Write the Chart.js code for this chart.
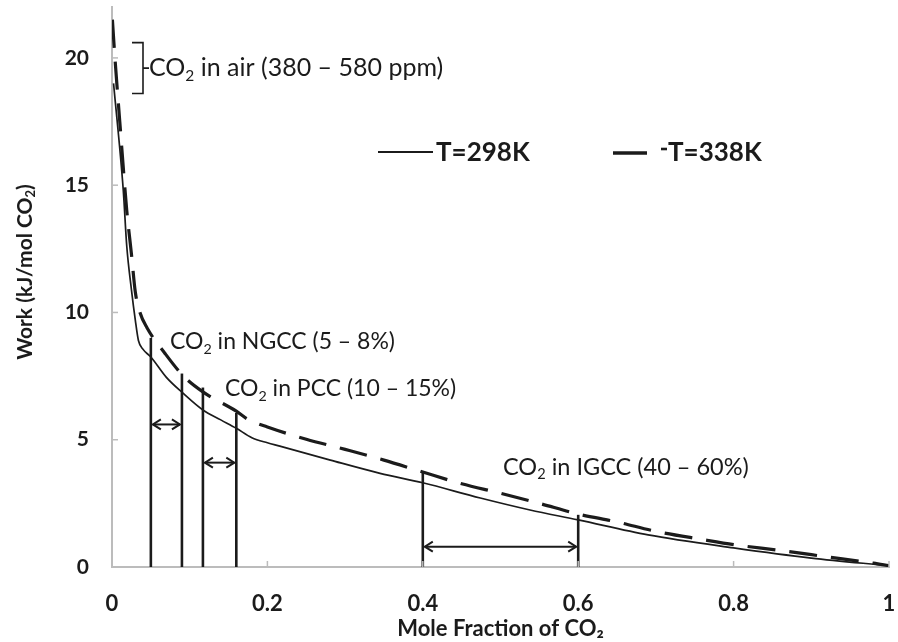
<!DOCTYPE html>
<html>
<head>
<meta charset="utf-8">
<script src="https://cdn.jsdelivr.net/npm/chart.js@4.4.0/dist/chart.umd.min.js"></script>
<style>
  html, body { margin: 0; padding: 0; background: #fff; }
</style>
</head>
<body>
<canvas id="work-chart" width="898" height="642"></canvas>
<script>
"use strict";

/* --- DATA --- */

// T = 298K (solid)
const x_298 = [0.002, 0.0145, 0.019, 0.025, 0.030, 0.034, 0.040, 0.050, 0.070, 0.091, 0.117, 0.140, 0.160, 0.180, 0.200, 0.216, 0.281, 0.345, 0.400, 0.474, 0.538, 0.600, 0.690, 0.800, 0.900, 1.000];
const y_298 = [19.0, 14.8, 12.6, 10.9, 9.7, 8.9, 8.55, 8.25, 7.45, 6.84, 6.17, 5.78, 5.45, 5.08, 4.88, 4.75, 4.2, 3.68, 3.31, 2.71, 2.24, 1.85, 1.26, 0.75, 0.35, 0.05];

// T = 338K (dashed)
const x_338 = [0.0005, 0.004, 0.010, 0.0145, 0.019, 0.025, 0.030, 0.036, 0.045, 0.068, 0.092, 0.117, 0.160, 0.175, 0.200, 0.250, 0.300, 0.350, 0.400, 0.450, 0.500, 0.550, 0.600, 0.650, 0.700, 0.760, 0.800, 0.860, 0.920, 0.980, 1.000];
const y_338 = [21.5, 19.9, 17.5, 15.7, 14.0, 12.3, 10.8, 10.0, 9.4, 8.4, 7.5, 6.88, 6.12, 5.8, 5.5, 5.02, 4.62, 4.2, 3.73, 3.27, 2.9, 2.5, 2.08, 1.77, 1.4, 1.08, 0.88, 0.65, 0.4, 0.15, 0.05];

// source ranges: vertical markers
const marker_x = [0.05, 0.09, 0.117, 0.16, 0.40, 0.60];
const marker_top = [9.0, 7.6, 7.05, 6.05, 3.75, 2.05];

// double arrows between markers
const arrow_from = [0.05, 0.117, 0.40];
const arrow_to = [0.09, 0.16, 0.60];
const arrow_y = [5.6, 4.1, 0.8];

// CO2 in air bracket (kJ/mol)
const air_range = [18.6, 20.6];

const x_ticks = [0, 0.2, 0.4, 0.6, 0.8, 1];
const y_ticks = [0, 5, 10, 15, 20];

const series_names = ['T=298K', 'T=338K'];

/* --- CHART --- */

const FONT = 'Lato';
const INK = '#1b1b1b';
const AXIS_GREY = '#bcbcbc';

function zip(xs, ys) {
  return xs.map((x, i) => ({x: x, y: ys[i]}));
}

let datasets = [
  {
    label: series_names[0],
    data: zip(x_298, y_298),
    showLine: true,
    borderColor: INK,
    borderWidth: 1.7,
    pointRadius: 0,
    cubicInterpolationMode: 'monotone'
  },
  {
    label: series_names[1],
    data: zip(x_338, y_338),
    showLine: true,
    borderColor: INK,
    borderWidth: 3.2,
    borderDash: [28, 14],
    pointRadius: 0,
    cubicInterpolationMode: 'monotone'
  }
];

marker_x.forEach((mx, i) => {
  datasets.push({
    label: 'marker' + i,
    data: [{x: mx, y: 0}, {x: mx, y: marker_top[i]}],
    showLine: true,
    borderColor: INK,
    borderWidth: 2.6,
    pointRadius: 0
  });
});

function rich_text(ctx, x, y, parts, size, weight) {
  let cx = x;
  ctx.textBaseline = 'middle';
  ctx.textAlign = 'left';
  for (const [txt, sub] of parts) {
    const s = sub ? size * 0.62 : size;
    ctx.font = (weight || 'normal') + ' ' + s + 'px ' + FONT;
    ctx.fillText(txt, cx, sub ? y + size * 0.3 : y);
    cx += ctx.measureText(txt).width;
  }
  return cx - x;
}

function text_width(ctx, parts, size, weight) {
  let w = 0;
  for (const [txt, sub] of parts) {
    ctx.font = (weight || 'normal') + ' ' + (sub ? size * 0.62 : size) + 'px ' + FONT;
    w += ctx.measureText(txt).width;
  }
  return w;
}

function arrow_head(ctx, x, y, dir) {
  ctx.beginPath();
  ctx.moveTo(x + dir * 8, y - 5);
  ctx.lineTo(x, y);
  ctx.lineTo(x + dir * 8, y + 5);
  ctx.stroke();
}

function no_edge_padding(s) {
  s.paddingTop = 0;
  s.paddingBottom = 0;
  s.paddingLeft = 0;
  s.paddingRight = 0;
}

const overlay = {
  id: 'overlay',
  afterDraw(chart) {
    const ctx = chart.ctx;
    const xs = chart.scales.x;
    const ys = chart.scales.y;
    const area = chart.chartArea;
    ctx.save();

    // small inside tick marks
    ctx.strokeStyle = AXIS_GREY;
    ctx.lineWidth = 1.5;
    y_ticks.slice(1).forEach(v => {
      const py = ys.getPixelForValue(v);
      ctx.beginPath(); ctx.moveTo(area.left, py); ctx.lineTo(area.left + 6, py); ctx.stroke();
    });
    x_ticks.slice(1).forEach(v => {
      const px = xs.getPixelForValue(v);
      ctx.beginPath(); ctx.moveTo(px, area.bottom); ctx.lineTo(px, area.bottom - 6); ctx.stroke();
    });

    // arrows
    ctx.strokeStyle = INK;
    ctx.lineWidth = 2;
    arrow_from.forEach((a, i) => {
      const x1 = xs.getPixelForValue(a) + 2;
      const x2 = xs.getPixelForValue(arrow_to[i]) - 2;
      const py = ys.getPixelForValue(arrow_y[i]);
      ctx.beginPath(); ctx.moveTo(x1, py); ctx.lineTo(x2, py); ctx.stroke();
      arrow_head(ctx, x1, py, 1);
      arrow_head(ctx, x2, py, -1);
    });

    // bracket for CO2 in air
    const bt = ys.getPixelForValue(air_range[1]);
    const bb = ys.getPixelForValue(air_range[0]);
    const bx = area.left + 31;
    ctx.lineWidth = 1.6;
    ctx.beginPath();
    ctx.moveTo(bx - 11, bt); ctx.lineTo(bx, bt); ctx.lineTo(bx, bb); ctx.lineTo(bx - 11, bb);
    ctx.moveTo(bx, (bt + bb) / 2); ctx.lineTo(bx + 6, (bt + bb) / 2);
    ctx.stroke();

    // annotations
    ctx.fillStyle = INK;
    rich_text(ctx, bx + 6, (bt + bb) / 2, [['CO', 0], ['2', 1], [' in air (380 \u2013 580 ppm)', 0]], 25);
    rich_text(ctx, 170, 342, [['CO', 0], ['2', 1], [' in NGCC (5 \u2013 8%)', 0]], 23);
    rich_text(ctx, 225, 389, [['CO', 0], ['2', 1], [' in PCC (10 \u2013 15%)', 0]], 23);
    rich_text(ctx, 503, 467, [['CO', 0], ['2', 1], [' in IGCC (40 \u2013 60%)', 0]], 23.5);

    // legend
    ctx.lineWidth = 2;
    ctx.beginPath(); ctx.moveTo(378, 152); ctx.lineTo(433, 152); ctx.stroke();
    rich_text(ctx, 436, 153, [[series_names[0], 0]], 26, 'bold');
    ctx.lineWidth = 3.4;
    ctx.beginPath(); ctx.moveTo(613, 153); ctx.lineTo(647, 153); ctx.stroke();
    ctx.lineWidth = 2.6;
    ctx.beginPath(); ctx.moveTo(661, 149); ctx.lineTo(667, 149); ctx.stroke();
    rich_text(ctx, 668, 153, [[series_names[1], 0]], 26, 'bold');

    // y axis title
    const ytitle = [['Work (kJ/mol CO', 0], ['2', 1], [')', 0]];
    const tw = text_width(ctx, ytitle, 21, 'bold');
    ctx.translate(25, 272);
    ctx.rotate(-Math.PI / 2);
    rich_text(ctx, -tw / 2, 0, ytitle, 21, 'bold');

    ctx.restore();
  }
};

const work_chart = new Chart(document.getElementById('work-chart'), {
  type: 'scatter',
  data: { datasets: datasets },
  options: {
    responsive: false,
    animation: false,
    devicePixelRatio: 1,
    layout: { padding: { left: 0, right: 9, top: 7, bottom: 0 } },
    plugins: {
      legend: { display: false },
      tooltip: { enabled: false }
    },
    scales: {
      x: {
        type: 'linear',
        min: 0,
        max: 1,
        afterBuildTicks: s => { s.ticks = x_ticks.map(v => ({value: v})); },
        afterFit: s => { s.height = 75; no_edge_padding(s); },
        grid: { display: false, drawTicks: false },
        border: { color: AXIS_GREY, width: 2 },
        ticks: {
          padding: 24,
          maxRotation: 0,
          color: INK,
          font: { family: FONT, weight: 'bold', size: 22 },
          callback: v => String(v)
        },
        title: {
          display: true,
          text: 'Mole Fraction of CO\u2082',
          color: INK,
          font: { family: FONT, weight: 'bold', size: 22 },
          padding: { top: 0, bottom: 0 }
        }
      },
      y: {
        type: 'linear',
        min: 0,
        max: 22,
        afterBuildTicks: s => { s.ticks = y_ticks.map(v => ({value: v})); },
        afterFit: s => { s.width = 112; no_edge_padding(s); },
        grid: { display: false, drawTicks: false },
        border: { color: AXIS_GREY, width: 2 },
        ticks: {
          padding: 23,
          color: INK,
          font: { family: FONT, weight: 'bold', size: 21 }
        }
      }
    }
  },
  plugins: [overlay]
});
</script>
</body>
</html>
